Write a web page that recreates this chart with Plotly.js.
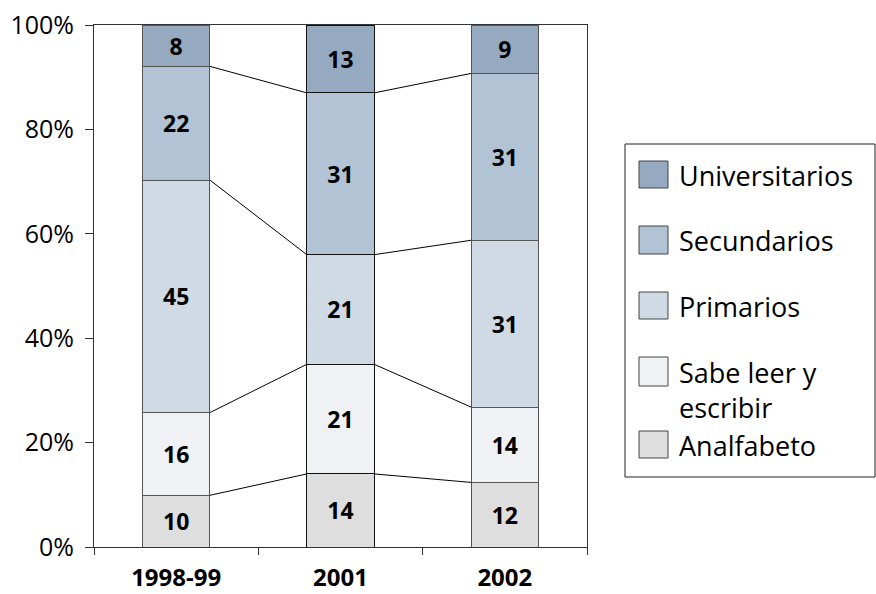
<!DOCTYPE html>
<html><head><meta charset="utf-8">
<script src="https://cdn.plot.ly/plotly-3.0.1.min.js"></script>
<style>html,body{margin:0;padding:0;background:#fff}</style>
</head><body><div id="chart" style="width:876px;height:594px"></div>
<script>
const categories = ['1998-99','2001','2002'];
const seriesNames = ['Analfabeto','Sabe leer y escribir','Primarios','Secundarios','Universitarios'];
const analfabeto = [10,14,12];
const sabeLeer = [16,21,14];
const primarios = [45,21,31];
const secundarios = [22,31,31];
const universitarios = [8,13,9];
const tickLabels = ['0%','20%','40%','60%','80%','100%'];
const tickValues = [0,20,40,60,80,100];

const colors = ['#dedede','#eff1f5','#cfdae4','#b1c3d4','#95aac1'];
const series = [analfabeto, sabeLeer, primarios, secundarios, universitarios];
const xpos = categories.map((c,i)=>i);
const BW = 0.41;
const outline = ['#555','#111','#555'];
const FONT = 'Open Sans';

const traces = series.map((vals,k)=>({
  type:'bar', x:xpos, y:vals, name:seriesNames[k], width:BW,
  marker:{color:colors[k], line:{color:outline, width:1}},
  text: vals.map(String), texttemplate:'%{text}', textposition:'inside',
  insidetextanchor:'middle', textangle:0, constraintext:'none',
  textfont:{family:FONT, size:23, color:'#000', weight:'bold'},
  showlegend:false, hoverinfo:'skip'
}));

// series lines connecting stack boundaries between neighbouring bars
const totals = categories.map((c,j)=>series.reduce((s,arr)=>s+arr[j],0));
const lx=[], ly=[];
for (let k=0;k<series.length-1;k++){
  const cum = categories.map((c,j)=>series.slice(0,k+1).reduce((s,arr)=>s+arr[j],0)/totals[j]*100);
  for (let j=0;j<categories.length-1;j++){
    lx.push(j+BW/2, j+1-BW/2, null); ly.push(cum[j], cum[j+1], null);
  }
}
traces.push({type:'scatter', mode:'lines', x:lx, y:ly, line:{color:'#000', width:1},
  showlegend:false, hoverinfo:'skip'});

// manual legend (pixel -> paper helpers)
const L=94, W=493, B=547, H=522;
const px = v => (v-L)/W;
const py = v => (B-v)/H;
const shapes = [{type:'rect', xref:'paper', yref:'paper', x0:px(625), x1:px(875), y0:py(144), y1:py(477),
  line:{color:'#222', width:1}, fillcolor:'rgba(0,0,0,0)'}];
const legendOrder = [4,3,2,1,0];
const swY = [[161,188],[226,254],[292,319],[357,386],[431,458]];
const annotations = [];
legendOrder.forEach((k,i)=>{
  shapes.push({type:'rect', xref:'paper', yref:'paper', x0:px(639), x1:px(668), y0:py(swY[i][0]), y1:py(swY[i][1]),
    line:{color:'#444', width:1}, fillcolor:colors[k]});
});
const legText = [['Universitarios',175],['Secundarios',240],['Primarios',306],['Sabe leer y<br>escribir',390],['Analfabeto',445]];
legText.forEach(([t,y])=>{
  annotations.push({xref:'paper', yref:'paper', x:px(677), y:py(y), xanchor:'left', yanchor:'middle',
    align:'left', text:t, showarrow:false, font:{family:FONT, size:27, color:'#000'}});
});

const layout = {
  width:876, height:594, margin:{l:94,r:289,t:25,b:47},
  paper_bgcolor:'#fff', plot_bgcolor:'#fff',
  barmode:'stack', barnorm:'percent',
  font:{family:FONT, color:'#000'},
  xaxis:{range:[-0.5,2.5], tickmode:'array', tickvals:xpos, ticktext:categories, ticks:'',
    tickfont:{family:FONT, size:24, weight:'bold', color:'#000'},
    showline:true, linecolor:'#333', linewidth:1, mirror:true, showgrid:false, zeroline:false,
    ticklabelstandoff:9,
    minor:{tickmode:'array', tickvals:[-0.5,0.5,1.5,2.5], ticks:'outside', ticklen:7, tickcolor:'#333', showgrid:false}},
  yaxis:{range:[0,100], tickmode:'array', tickvals:tickValues, ticktext:tickLabels,
    ticks:'outside', ticklen:8, tickcolor:'#333',
    tickfont:{family:FONT, size:25, color:'#000'},
    showline:true, linecolor:'#333', linewidth:1, mirror:true, showgrid:false, zeroline:false,
    ticklabelstandoff:6},
  shapes: shapes, annotations: annotations
};
Plotly.newPlot('chart', traces, layout, {displayModeBar:false, staticPlot:true});
</script></body></html>
